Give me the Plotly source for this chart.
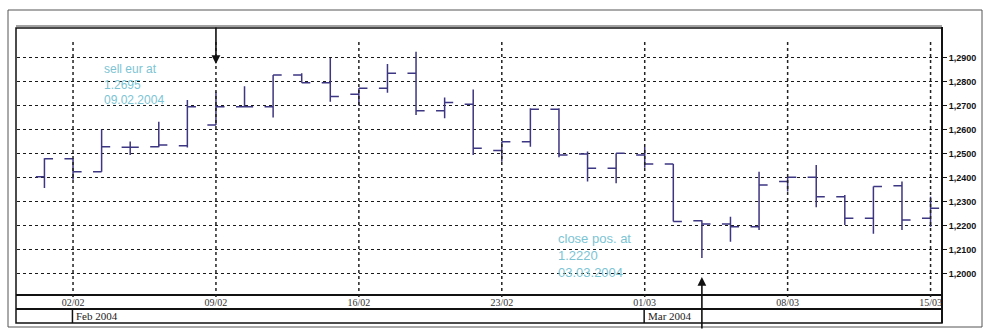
import plotly.graph_objects as go

# ---------------- data ----------------
dates = ["30/01", "02/02", "03/02", "04/02", "05/02", "06/02",
         "09/02", "10/02", "11/02", "12/02", "13/02",
         "16/02", "17/02", "18/02", "19/02", "20/02",
         "23/02", "24/02", "25/02", "26/02", "27/02",
         "01/03", "02/03", "03/03", "04/03", "05/03",
         "08/03", "09/03", "10/03", "11/03", "12/03", "15/03"]

open_ = [1.2403, 1.2478, 1.2424, 1.2526, 1.2528, 1.2532,
         1.2619, 1.2695, 1.2695, 1.2827, 1.2795,
         1.2747, 1.2772, 1.2834, 1.2678, 1.2705,
         1.2512, 1.2549, 1.2684, 1.2498, 1.2438,
         1.2494, 1.2456, 1.2220, 1.2206, 1.2195,
         1.2383, 1.2401, 1.2320, 1.2230, 1.2365, 1.2230]
high = [1.2480, 1.2480, 1.2600, 1.2550, 1.2632, 1.2723,
        1.2757, 1.2780, 1.2827, 1.2834, 1.2898,
        1.2772, 1.2873, 1.2924, 1.2733, 1.2767,
        1.2549, 1.2688, 1.2688, 1.2508, 1.2501,
        1.2527, 1.2456, 1.2222, 1.2236, 1.2424,
        1.2401, 1.2452, 1.2327, 1.2362, 1.2383, 1.2320]
low = [1.2356, 1.2390, 1.2424, 1.2494, 1.2526, 1.2525,
       1.2619, 1.2695, 1.2650, 1.2795, 1.2716,
       1.2700, 1.2753, 1.2660, 1.2647, 1.2494,
       1.2465, 1.2528, 1.2484, 1.2383, 1.2376,
       1.2440, 1.2216, 1.2064, 1.2132, 1.2181,
       1.2341, 1.2276, 1.2202, 1.2165, 1.2181, 1.2195]
close = [1.2478, 1.2424, 1.2528, 1.2526, 1.2535, 1.2695,
         1.2695, 1.2695, 1.2827, 1.2795, 1.2737,
         1.2772, 1.2834, 1.2678, 1.2712, 1.2522,
         1.2549, 1.2684, 1.2494, 1.2438, 1.2501,
         1.2456, 1.2216, 1.2206, 1.2195, 1.2369,
         1.2401, 1.2320, 1.2230, 1.2362, 1.2223, 1.2272]

x_tick_dates = ["02/02", "09/02", "16/02", "23/02", "01/03", "08/03", "15/03"]
y_tick_vals = [1.20, 1.21, 1.22, 1.23, 1.24, 1.25, 1.26, 1.27, 1.28, 1.29]
y_tick_text = ["1,2000", "1,2100", "1,2200", "1,2300", "1,2400",
               "1,2500", "1,2600", "1,2700", "1,2800", "1,2900"]
month_labels = ["Feb 2004", "Mar 2004"]
month_starts = ["02/02", "01/03"]

sell_date, sell_text = "09/02", "sell eur at<br>1.2695<br>09.02.2004"
close_date, close_text = "03/03", "close pos. at<br>1.2220<br>03.03.2004"

# ---------------- styling / layout ----------------
W, H = 988, 330
PL, PR, PT, PB = 17, 942, 28, 295     # plot-area edges in pixels
BAR = "#3d3682"
TXT = "#7cc4d4"


def px(X):
    return (X - PL) / (PR - PL)


def py(Y):
    return (PB - Y) / (PB - PT)


xi = list(range(len(dates)))
idx = {d: i for i, d in enumerate(dates)}

fig = go.Figure(go.Ohlc(
    x=xi, open=open_, high=high, low=low, close=close,
    increasing=dict(line=dict(color=BAR, width=1.5)),
    decreasing=dict(line=dict(color=BAR, width=1.5)),
    tickwidth=0.3, showlegend=False, hoverinfo="skip"))

fig.update_layout(
    width=W, height=H,
    margin=dict(l=PL, r=W - PR, t=PT, b=H - PB, pad=0),
    paper_bgcolor="white", plot_bgcolor="white", showlegend=False,
    xaxis=dict(range=[-0.96, 31.4], tickmode="array",
               tickvals=[idx[d] for d in x_tick_dates], ticktext=x_tick_dates,
               showgrid=False, zeroline=False, showline=False, ticks="",
               tickfont=dict(family="Liberation Serif, serif", size=10, color="#333"),
               rangeslider=dict(visible=False), fixedrange=True),
    yaxis=dict(side="right", range=[1.191, 1.3023], tickmode="array",
               tickvals=y_tick_vals, ticktext=y_tick_text,
               showgrid=True, gridcolor="#1a1a1a", gridwidth=1.2, griddash="dot",
               zeroline=False, showline=False, ticks="outside", ticklen=4,
               tickcolor="#111", tickwidth=1,
               tickfont=dict(family="Liberation Sans Narrow, Arial Narrow, Liberation Sans, sans-serif",
                             size=9, color="#111", weight="bold"),
               fixedrange=True),
)

shapes = []
# outer frame
shapes.append(dict(type="rect", xref="paper", yref="paper",
                   x0=px(8), x1=px(982), y0=py(10), y1=py(327),
                   line=dict(color="#555", width=1)))
# inner box
shapes.append(dict(type="rect", xref="paper", yref="paper",
                   x0=px(16), x1=px(942), y0=py(28), y1=py(323),
                   line=dict(color="#111", width=1.5)))
shapes.append(dict(type="line", xref="paper", yref="paper",
                   x0=px(942), x1=px(942), y0=py(27), y1=py(323),
                   line=dict(color="#111", width=2)))
shapes.append(dict(type="line", xref="paper", yref="paper",
                   x0=px(16), x1=px(942), y0=py(26), y1=py(26),
                   line=dict(color="#444", width=1)))
# axis rows
for Y in (295, 309):
    shapes.append(dict(type="line", xref="paper", yref="paper",
                       x0=px(16), x1=px(942), y0=py(Y), y1=py(Y),
                       line=dict(color="#111", width=2)))
# vertical dotted gridlines at Mondays
for d in x_tick_dates:
    shapes.append(dict(type="line", xref="x", yref="paper",
                       x0=idx[d], x1=idx[d], y0=py(42), y1=py(299),
                       line=dict(color="#222", width=1.5, dash="dot")))
# month separators
for d in month_starts:
    shapes.append(dict(type="line", xref="x", yref="paper",
                       x0=idx[d] - 0.02, x1=idx[d] - 0.02, y0=py(309), y1=py(323),
                       line=dict(color="#111", width=1.5)))
fig.update_layout(shapes=shapes)

ann = []
for lab, d in zip(month_labels, month_starts):
    ann.append(dict(text=lab, xref="x", yref="paper", x=idx[d], y=py(316),
                    xanchor="left", yanchor="middle", xshift=1, showarrow=False,
                    font=dict(family="Liberation Serif, serif", size=11, color="#222")))
# trade notes
ann.append(dict(text=sell_text, xref="paper", yref="paper", x=px(102), y=py(60),
                xanchor="left", yanchor="top", align="left", showarrow=False,
                font=dict(family="Liberation Sans, Arial, sans-serif", size=12, color=TXT)))
ann.append(dict(text=close_text, xref="paper", yref="paper", x=px(556), y=py(229),
                xanchor="left", yanchor="top", align="left", showarrow=False,
                font=dict(family="Liberation Sans, Arial, sans-serif", size=13, color=TXT)))
# arrows
ann.append(dict(text="", xref="x", yref="paper", x=idx[sell_date], y=py(64),
                showarrow=True, ax=0, ay=-38, arrowhead=2, arrowsize=1.1,
                arrowwidth=1.6, arrowcolor="#111"))
ann.append(dict(text="", xref="x", yref="paper", x=idx[close_date], y=py(277),
                showarrow=True, ax=0, ay=58, arrowhead=2, arrowsize=1.1,
                arrowwidth=1.6, arrowcolor="#111"))
fig.update_layout(annotations=ann)

fig.write_html("out.html", config={"displayModeBar": False},
               post_script="document.body.style.margin='0';document.body.style.overflow='hidden';")
